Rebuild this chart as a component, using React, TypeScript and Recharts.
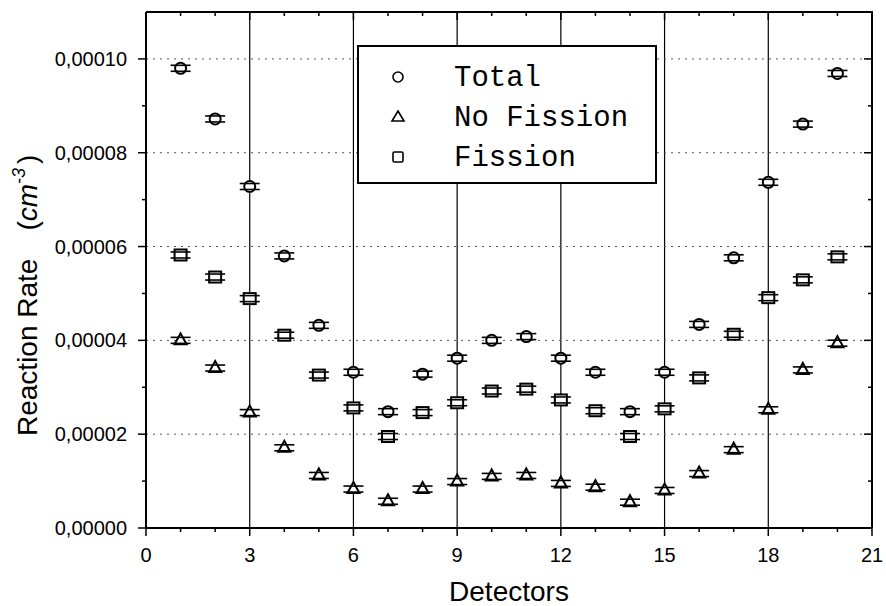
import { Legend, ReferenceLine, Scatter, ScatterChart, XAxis, YAxis } from "recharts";

const detectors = [1, 2, 3, 4, 5, 6, 7, 8, 9, 10, 11, 12, 13, 14, 15, 16, 17, 18, 19, 20];

const total = [
  0.000098, 0.0000872, 0.0000728, 0.000058, 0.0000432, 0.0000332, 0.0000248, 0.0000328, 0.0000362, 0.00004,
  0.0000408, 0.0000362, 0.0000332, 0.0000248, 0.0000332, 0.0000434, 0.0000576, 0.0000737, 0.0000861, 0.0000969,
];
const noFission = [
  0.00004, 0.0000341, 0.0000246, 0.0000171, 0.0000112, 0.0000083, 0.0000057, 0.0000083, 0.0000099, 0.000011,
  0.0000112, 0.0000095, 0.0000087, 0.0000055, 0.000008, 0.0000116, 0.0000167, 0.0000252, 0.0000337, 0.0000394,
];
const fission = [
  0.0000582, 0.0000535, 0.0000489, 0.0000411, 0.0000326, 0.0000256, 0.0000195, 0.0000246, 0.0000267, 0.0000292,
  0.0000296, 0.0000273, 0.000025, 0.0000195, 0.0000254, 0.000032, 0.0000413, 0.0000491, 0.0000529, 0.0000578,
];

const xTicks = [0, 1, 2, 3, 4, 5, 6, 7, 8, 9, 10, 11, 12, 13, 14, 15, 16, 17, 18, 19, 20, 21];
const yTicks = [0, 0.00001, 0.00002, 0.00003, 0.00004, 0.00005, 0.00006, 0.00007, 0.00008, 0.00009, 0.0001, 0.00011];
const xGrid = [3, 6, 9, 12, 15, 18];
const yGrid = [0.00002, 0.00004, 0.00006, 0.00008, 0.0001];
const xMax = 21;
const yMax = 0.00011;

const toPoints = (values: number[]) => detectors.map((d, i) => ({ x: d, y: values[i] }));

const WIDTH = 886;
const HEIGHT = 606;
const Y_AXIS_W = 146;
const X_AXIS_H = 78;
const MARGIN = { top: 12, right: 14, bottom: 0, left: 0 };
// edges of the plot box, used for the mirrored (top / right) frame and ticks
const PLOT_TOP = MARGIN.top;
const PLOT_RIGHT = WIDTH - MARGIN.right;

const FONT = "'Liberation Sans', Arial, sans-serif";
const MONO = "'Liberation Mono', 'Courier New', monospace";

const isMajorX = (v: number) => v % 3 === 0;
const isMajorY = (v: number) => Math.round(v * 1e5) % 2 === 0;
const fmtY = (v: number) => v.toFixed(5).replace(".", ",");

const BottomTick = ({ x, y, payload }: any) => {
  const v = payload.value;
  const major = isMajorX(v);
  const len = major ? 8 : 4;
  return (
    <g>
      <line x1={x} x2={x} y1={y} y2={y + len} stroke="#000" strokeWidth={1.5} />
      <line x1={x} x2={x} y1={PLOT_TOP} y2={PLOT_TOP + len} stroke="#000" strokeWidth={1.5} />
      {major && (
        <text x={x} y={y + 34} textAnchor="middle" fontSize={20} fontFamily={FONT} fill="#000">
          {v}
        </text>
      )}
    </g>
  );
};

const LeftTick = ({ x, y, payload }: any) => {
  const v = payload.value;
  if (v >= yMax) return <g />;
  const major = isMajorY(v);
  const len = major ? 8 : 4;
  return (
    <g>
      <line x1={x} x2={x - len} y1={y} y2={y} stroke="#000" strokeWidth={1.5} />
      <line x1={PLOT_RIGHT} x2={PLOT_RIGHT - len} y1={y} y2={y} stroke="#000" strokeWidth={1.5} />
      {major && (
        <text x={x - 19} y={y + 7} textAnchor="end" fontSize={20} fontFamily={FONT} fill="#000">
          {fmtY(v)}
        </text>
      )}
    </g>
  );
};

const Caps = ({ cx, cy }: { cx: number; cy: number }) => (
  <g stroke="#000" strokeWidth={1.6}>
    <line x1={cx - 10} x2={cx + 10} y1={cy - 3} y2={cy - 3} />
    <line x1={cx - 10} x2={cx + 10} y1={cy + 3} y2={cy + 3} />
  </g>
);

const CircleMark = ({ cx, cy }: any) => (
  <g>
    <circle cx={cx} cy={cy} r={5.5} fill="#fff" stroke="#000" strokeWidth={2} />
    <Caps cx={cx} cy={cy} />
  </g>
);

const TriangleMark = ({ cx, cy }: any) => (
  <g>
    <path d={`M${cx},${cy - 7} L${cx + 6},${cy + 4} L${cx - 6},${cy + 4} Z`} fill="#fff" stroke="#000" strokeWidth={2} />
    <Caps cx={cx} cy={cy} />
  </g>
);

const SquareMark = ({ cx, cy }: any) => (
  <g>
    <rect x={cx - 6} y={cy - 5.5} width={12} height={11} fill="#fff" stroke="#000" strokeWidth={2} />
    <Caps cx={cx} cy={cy} />
  </g>
);

const legendRows = [
  { label: "Total", kind: "circle" },
  { label: "No Fission", kind: "triangle" },
  { label: "Fission", kind: "square" },
];

const LegendBox = () => (
  <div style={{ width: 300, height: 139, border: "2px solid #000", boxSizing: "border-box", background: "#fff" }}>
    <svg width={296} height={135}>
      {legendRows.map((r, i) => {
        const cy = 30 + i * 40;
        return (
          <g key={r.label}>
            {r.kind === "circle" && <circle cx={39} cy={cy} r={5} fill="none" stroke="#000" strokeWidth={1.6} />}
            {r.kind === "triangle" && (
              <path d={`M39,${cy - 6} L45,${cy + 4} L33,${cy + 4} Z`} fill="none" stroke="#000" strokeWidth={1.6} />
            )}
            {r.kind === "square" && (
              <rect x={34} y={cy - 5} width={10} height={10} rx={1.5} fill="none" stroke="#000" strokeWidth={1.6} />
            )}
            <text x={95} y={cy + 9} fontSize={29} fontFamily={MONO} fill="#000">
              {r.label}
            </text>
          </g>
        );
      })}
    </svg>
  </div>
);

const YLabel = ({ viewBox }: any) => {
  const x = viewBox.x + 37;
  const y = viewBox.y + viewBox.height - 92;
  return (
    <text x={x} y={y} transform={`rotate(-90, ${x}, ${y})`} fontSize={28} fontFamily={FONT} fill="#000">
      <tspan>Reaction Rate</tspan>
      <tspan dx={28}>(</tspan>
      <tspan fontStyle="italic">cm</tspan>
      <tspan fontStyle="italic" fontSize={18} dy={-12}>-3</tspan>
      <tspan dy={12} dx={4}>)</tspan>
    </text>
  );
};

export default function App() {
  return (
    <div style={{ position: "absolute", left: 0, top: 0, width: WIDTH, height: HEIGHT, background: "#fff" }}>
      <ScatterChart width={WIDTH} height={HEIGHT} margin={MARGIN}>
        <XAxis
          xAxisId="x"
          dataKey="x"
          type="number"
          domain={[0, xMax]}
          ticks={xTicks}
          interval={0}
          height={X_AXIS_H}
          tickSize={0}
          tickMargin={0}
          tickLine={false}
          tick={BottomTick}
          stroke="#000"
          strokeWidth={2}
          allowDataOverflow
          label={{ value: "Detectors", position: "insideBottom", offset: 5, fontSize: 28, fontFamily: FONT, fill: "#000" }}
        />
        <YAxis
          yAxisId="y"
          dataKey="y"
          type="number"
          domain={[0, yMax]}
          ticks={yTicks}
          interval={0}
          width={Y_AXIS_W}
          tickSize={0}
          tickMargin={0}
          tickLine={false}
          tick={LeftTick}
          stroke="#000"
          strokeWidth={2}
          allowDataOverflow
          label={{ content: YLabel }}
        />
        {xGrid.map((v) => (
          <ReferenceLine key={`gx${v}`} xAxisId="x" yAxisId="y" x={v} stroke="#000" strokeWidth={1.2} />
        ))}
        {yGrid.map((v) => (
          <ReferenceLine key={`gy${v}`} xAxisId="x" yAxisId="y" y={v} stroke="#555" strokeWidth={1} strokeDasharray="2 5" />
        ))}
        <Legend
          layout="horizontal"
          verticalAlign="middle"
          align="center"
          content={LegendBox}
          wrapperStyle={{ left: 357, top: 45, width: 300, height: 139 }}
        />
        <Scatter name="Total" xAxisId="x" yAxisId="y" data={toPoints(total)} shape={CircleMark} isAnimationActive={false} />
        <Scatter name="No Fission" xAxisId="x" yAxisId="y" data={toPoints(noFission)} shape={TriangleMark} isAnimationActive={false} />
        <Scatter name="Fission" xAxisId="x" yAxisId="y" data={toPoints(fission)} shape={SquareMark} isAnimationActive={false} />
      </ScatterChart>
      {/* top and right sides of the plot frame */}
      <div
        style={{
          position: "absolute",
          left: Y_AXIS_W,
          top: PLOT_TOP - 1,
          width: PLOT_RIGHT - Y_AXIS_W + 1,
          height: HEIGHT - X_AXIS_H - PLOT_TOP + 1,
          borderTop: "2px solid #000",
          borderRight: "2px solid #000",
          boxSizing: "border-box",
          pointerEvents: "none",
        }}
      />
    </div>
  );
}
